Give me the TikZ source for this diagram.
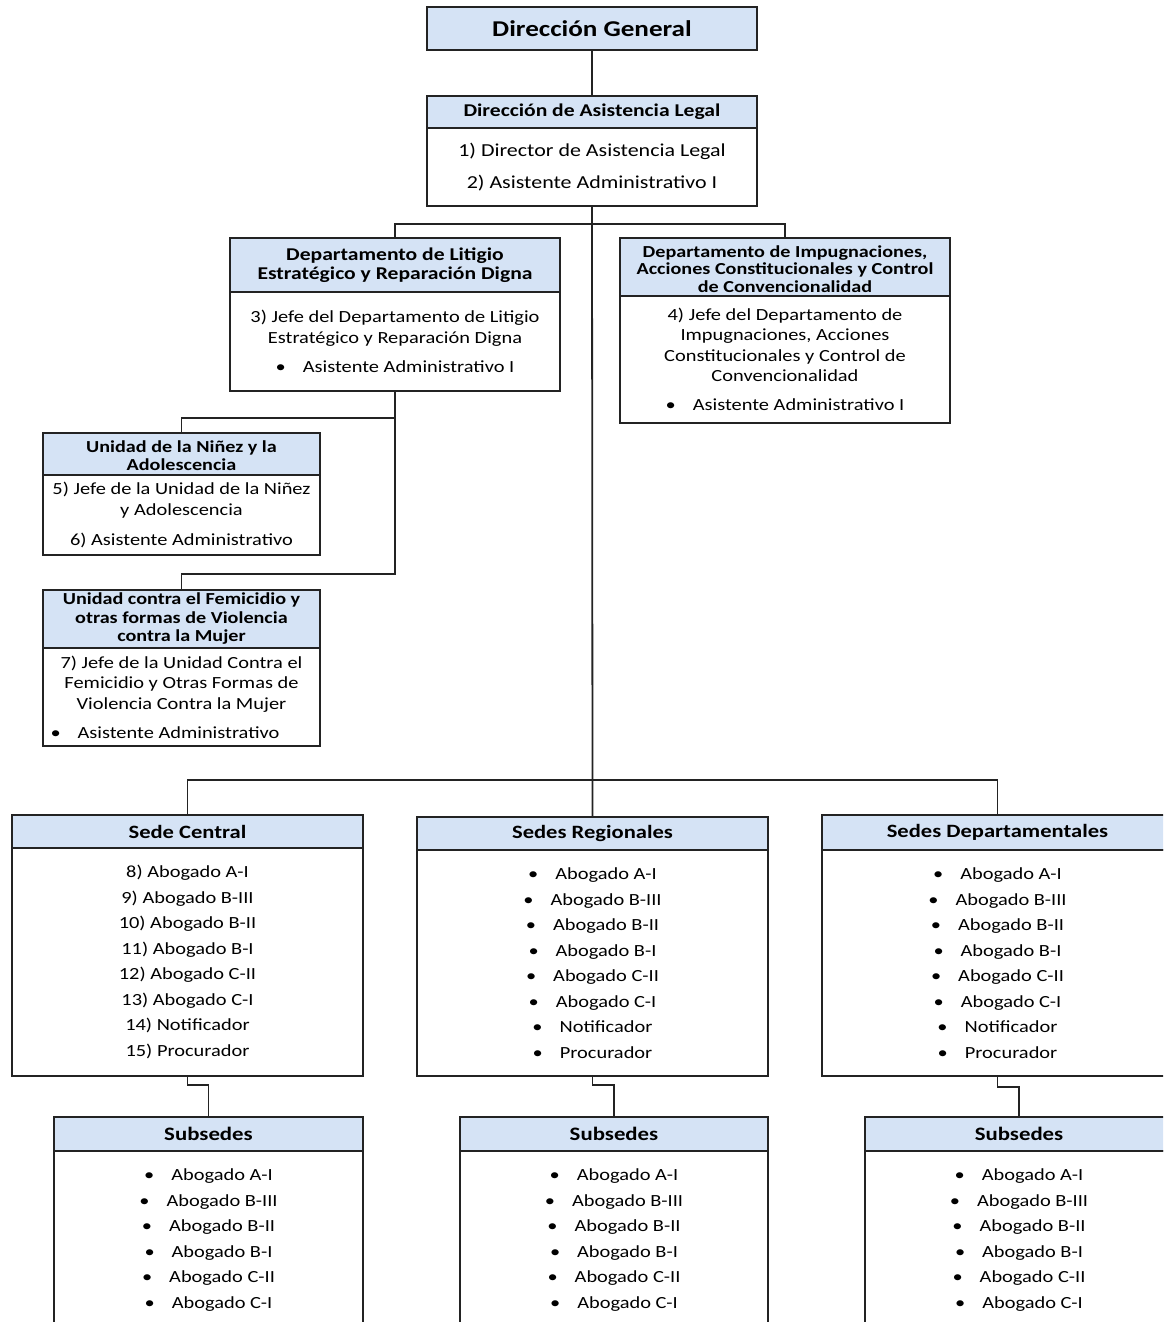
\documentclass[tikz,border=0pt]{standalone}
\usepackage{fontspec}
\setmainfont{Carlito}[FakeStretch=1.2]
\usetikzlibrary{positioning}
\definecolor{headcol}{RGB}{213,227,245}
\definecolor{linecol}{RGB}{35,35,35}
\newcommand{\blt}[1]{\textbullet\hspace{1.0em}#1}

\begin{document}
\begin{tikzpicture}[x=1pt,y=-1pt,
  head/.style={draw=linecol,line width=2pt,fill=headcol,anchor=north west,align=center,
    inner sep=1pt,outer sep=0pt,font=\bfseries\fontsize{18}{18.5}\selectfont},
  smallhead/.style={head,font=\bfseries\fontsize{16.8}{18.5}\selectfont},
  body/.style={draw=linecol,line width=2pt,fill=white,align=center,
    inner sep=2pt,outer sep=0pt,font=\fontsize{17}{20.5}\selectfont},
  list/.style={body,font=\fontsize{17}{25.5}\selectfont},
  conn/.style={draw=linecol,line width=1.8pt}]
\useasboundingbox (0,0) rectangle (1163,1322);
\clip (0,0) rectangle (1163,1322);
% ---- top: direccion ----
\node[head,minimum width=330pt,minimum height=43pt,font=\bfseries\fontsize{22.6}{26}\selectfont] (dg) at (427,7) {Dirección General};
\node[head,minimum width=330pt,minimum height=32pt] (dalh) at (427,96) {Dirección de Asistencia Legal};
\node[body,below=0pt of dalh,minimum width=330pt,minimum height=78pt,font=\fontsize{18.3}{20.5}\selectfont] (dalb) {1) Director de Asistencia Legal\\[11.5pt]2) Asistente Administrativo I};
\draw[conn] (dg.south) -- (dalh.north);
% ---- departamentos ----
\node[head,minimum width=330pt,minimum height=54pt] (lith) at (230,238) {Departamento de Litigio\\Estratégico y Reparación Digna};
\node[body,below=0pt of lith,minimum width=330pt,minimum height=99pt] (litb) {3) Jefe del Departamento de Litigio\\Estratégico y Reparación Digna\\[9pt]\blt{Asistente Administrativo I}};
\node[smallhead,minimum width=330pt,minimum height=58pt,font=\bfseries\fontsize{16.8}{17.5}\selectfont] (imph) at (620,238) {\rule{0pt}{16pt}Departamento de Impugnaciones,\\Acciones Constitucionales y Control\\de Convencionalidad};
\node[body,below=0pt of imph,minimum width=330pt,minimum height=127pt] (impb) {4) Jefe del Departamento de\\Impugnaciones, Acciones\\Constitucionales y Control de\\Convencionalidad\\[8.5pt]\blt{Asistente Administrativo I}};
\coordinate (dbus) at (592,224);
\draw[conn] (lith.north) |- (dbus) -| (imph.north);
% ---- unidades ----
\node[smallhead,minimum width=277pt,minimum height=42pt] (ninh) at (43,433) {\rule{0pt}{15pt}Unidad de la Niñez y la\\Adolescencia};
\node[body,below=0pt of ninh,minimum width=277pt,minimum height=80pt] (ninb) {5) Jefe de la Unidad de la Niñez\\y Adolescencia\\[10pt]6) Asistente Administrativo};
\node[smallhead,minimum width=277pt,minimum height=58pt] (femh) at (43,590) {Unidad contra el Femicidio y\\otras formas de Violencia\\contra la Mujer};
\node[body,below=0pt of femh,minimum width=277pt,minimum height=98pt] (femb) {7) Jefe de la Unidad Contra el\\Femicidio y Otras Formas de\\Violencia Contra la Mujer\\[8.5pt]\makebox[262pt][l]{\blt{Asistente Administrativo}}};
\coordinate (lb1) at (395,418); \coordinate (lb2) at (395,574);
\draw[conn] (litb.south) -- (lb2) -| (femh.north);
\draw[conn] (lb1) -| (ninh.north);
% ---- sedes ----
\node[head,minimum width=351pt,minimum height=33pt,font=\bfseries\fontsize{18.8}{20}\selectfont] (sch) at (12,815) {Sede Central};
\node[list,below=0pt of sch,minimum width=351pt,minimum height=228pt] (scb) {8) Abogado A-I\\9) Abogado B-III\\10) Abogado B-II\\11) Abogado B-I\\12) Abogado C-II\\13) Abogado C-I\\14) Notificador\\15) Procurador};
\node[head,minimum width=351pt,minimum height=33pt,font=\bfseries\fontsize{18.8}{20}\selectfont] (srh) at (417,817) {Sedes Regionales};
\node[list,below=0pt of srh,minimum width=351pt,minimum height=226pt] (srb) {\blt{Abogado A-I}\\\blt{Abogado B-III}\\\blt{Abogado B-II}\\\blt{Abogado B-I}\\\blt{Abogado C-II}\\\blt{Abogado C-I}\\\blt{Notificador}\\\blt{Procurador}};
\node[head,minimum width=351pt,minimum height=35pt,font=\bfseries\fontsize{18.8}{20}\selectfont] (sdh) at (822,815) {Sedes Departamentales};
\node[list,below=0pt of sdh,minimum width=351pt,minimum height=226pt] (sdb) {\blt{Abogado A-I}\\\blt{Abogado B-III}\\\blt{Abogado B-II}\\\blt{Abogado B-I}\\\blt{Abogado C-II}\\\blt{Abogado C-I}\\\blt{Notificador}\\\blt{Procurador}};
\coordinate (mbus) at (592,780);
\draw[conn] (dalb.south) -- (srh.north);
\draw[conn] (sch.north) |- (mbus) -| (sdh.north);
% ---- subsedes ----
\node[head,minimum width=309pt,minimum height=34pt,font=\bfseries\fontsize{19}{20}\selectfont] (s1h) at (54,1117) {Subsedes};
\node[list,below=0pt of s1h,minimum width=309pt,inner ysep=18pt] (s1b) {\blt{Abogado A-I}\\\blt{Abogado B-III}\\\blt{Abogado B-II}\\\blt{Abogado B-I}\\\blt{Abogado C-II}\\\blt{Abogado C-I}\\~};
\node[head,minimum width=308pt,minimum height=34pt,font=\bfseries\fontsize{19}{20}\selectfont] (s2h) at (460,1117) {Subsedes};
\node[list,below=0pt of s2h,minimum width=308pt,inner ysep=18pt] (s2b) {\blt{Abogado A-I}\\\blt{Abogado B-III}\\\blt{Abogado B-II}\\\blt{Abogado B-I}\\\blt{Abogado C-II}\\\blt{Abogado C-I}\\~};
\node[head,minimum width=308pt,minimum height=34pt,font=\bfseries\fontsize{19}{20}\selectfont] (s3h) at (865,1117) {Subsedes};
\node[list,below=0pt of s3h,minimum width=308pt,inner ysep=18pt] (s3b) {\blt{Abogado A-I}\\\blt{Abogado B-III}\\\blt{Abogado B-II}\\\blt{Abogado B-I}\\\blt{Abogado C-II}\\\blt{Abogado C-I}\\~};
\coordinate (e1) at (208.5,1085); \coordinate (e2) at (614,1085); \coordinate (e3) at (1019,1087);
\draw[conn] (scb.south) |- (e1) -- (s1h.north);
\draw[conn] (srb.south) |- (e2) -- (s2h.north);
\draw[conn] (sdb.south) |- (e3) -- (s3h.north);
\end{tikzpicture}
\end{document}
